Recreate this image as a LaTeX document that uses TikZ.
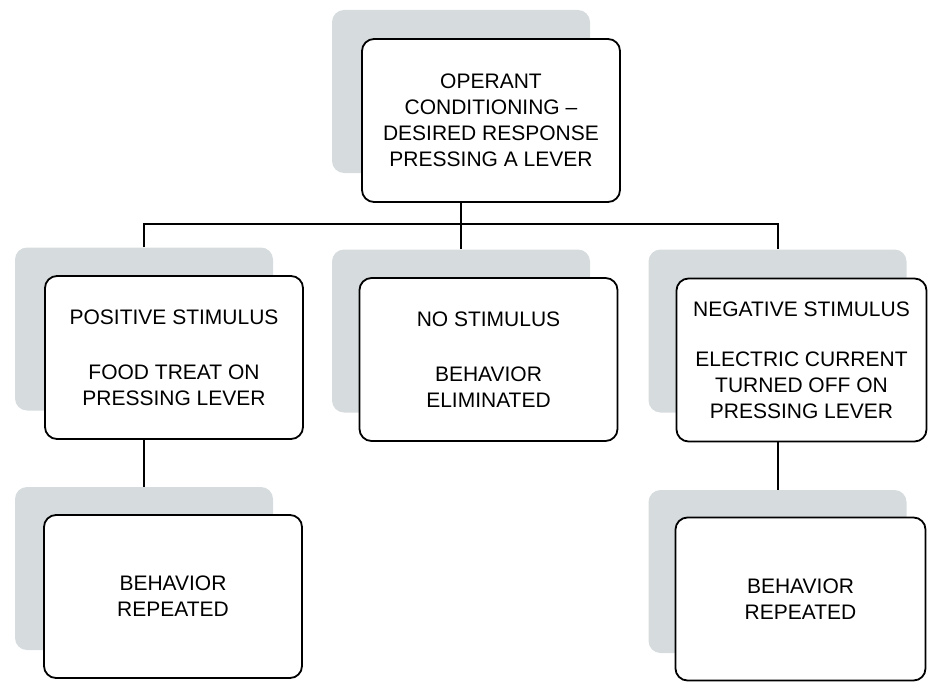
\documentclass[tikz,border=0pt]{standalone}
\usepackage{fontspec}
\setmainfont{Liberation Sans}
\usetikzlibrary{calc}
\pgfdeclarelayer{bg}
\pgfdeclarelayer{sh}
\pgfsetlayers{bg,sh,main}
\definecolor{shadowcol}{RGB}{214,220,222}
\tikzset{
  shade box/.style={fill=shadowcol, draw=none, rounded corners=12pt, minimum width=258pt, minimum height=163pt, inner sep=0pt},
  main box/.style={fill=white, draw=black, line width=1.8pt, rounded corners=12pt, minimum height=163pt, inner sep=0pt, align=center, font=\fontsize{21}{26}\selectfont},
  wide/.style={minimum width=258pt},
  narrow/.style={minimum width=250pt},
  link/.style={draw=black, line width=2pt}
}
\begin{document}
\begin{tikzpicture}[x=1pt,y=-1pt]
\useasboundingbox (0,0) rectangle (928,682);
% shadows
\begin{pgfonlayer}{sh}
\node[shade box] (ts) at (461,91.5) {};
\node[shade box] (sL) at (144,329) {};
\node[shade box] (sM) at (461,331) {};
\node[shade box] (sR) at (777.5,331) {};
\node[shade box] (sBL) at (144,568.5) {};
\node[shade box] (sBR) at (777.5,571.5) {};
\end{pgfonlayer}
% boxes
\node[main box, wide] (top) at (491,120.5) {OPERANT\\CONDITIONING --\\DESIRED RESPONSE\\PRESSING A LEVER};
\node[main box, wide] (pos) at (174,357.5) {POSITIVE STIMULUS\\[29pt]FOOD TREAT ON\\PRESSING LEVER};
\node[main box, wide] (nos) at (488.5,359.5) {NO STIMULUS\\[29pt]BEHAVIOR\\ELIMINATED};
\node[main box, narrow] (neg) at (801.5,360) {NEGATIVE STIMULUS\\[24pt]ELECTRIC CURRENT\\TURNED OFF ON\\PRESSING LEVER};
\node[main box, wide] (repL) at (173,596.5) {BEHAVIOR\\REPEATED};
\node[main box, narrow] (repR) at (800.5,599) {BEHAVIOR\\REPEATED};
% connectors
\coordinate (j) at ($(ts.south)+(0,51)$);
\begin{pgfonlayer}{bg}
\draw[link] (ts.south) -- (sM.north);
\draw[link] (sL.north) -- (sL.north |- j) -- (sR.north |- j) -- (sR.north);
\draw[link] (sL.south) -- (sBL.north);
\draw[link] (sR.south) -- (sBR.north);
\end{pgfonlayer}
\end{tikzpicture}
\end{document}
